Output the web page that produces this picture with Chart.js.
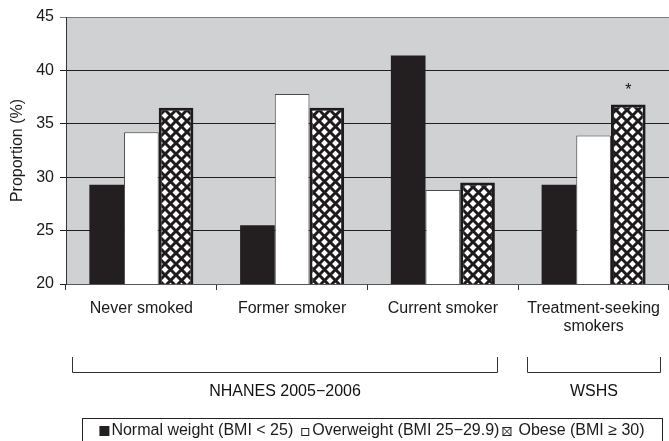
<!DOCTYPE html>
<html>
<head>
<meta charset="utf-8">
<script src="https://cdn.jsdelivr.net/npm/chart.js@4"></script>
<style>
  html, body { margin: 0; padding: 0; background: #fff; }
  #wrap { width: 669px; height: 441px; position: relative; }
</style>
</head>
<body>
<div id="wrap"><canvas id="myChart"></canvas></div>
<script>
// categories and values
var categories = ['Never smoked', 'Former smoker', 'Current smoker', ['Treatment-seeking', 'smokers']];
var seriesNames = ['Normal weight (BMI < 25)', 'Overweight (BMI 25\u221229.9)', 'Obese (BMI \u2265 30)'];
var normalWeight = [29.3, 25.5, 41.4, 29.3];
var overweight = [34.2, 37.8, 28.8, 33.9];
var obese = [36.5, 36.5, 29.5, 36.8];
var yMin = 20, yMax = 45, yStep = 5;
var significance = ['', '', '', '*'];
var groups = [
  { label: 'NHANES 2005\u22122006', from: 0, to: 2 },
  { label: 'WSHS', from: 3, to: 3 }
];

var FONT = '"Liberation Sans", Arial, Helvetica, sans-serif';
Chart.defaults.font.family = FONT;
Chart.defaults.font.size = 16;
Chart.defaults.color = '#1a1a1a';

// crosshatch fill: black lines, white diamonds
function hatchPattern() {
  var p = 11;
  var c = document.createElement('canvas');
  c.width = p; c.height = p;
  var g = c.getContext('2d');
  g.fillStyle = '#fff';
  g.fillRect(0, 0, p, p);
  g.strokeStyle = '#1e1b1c';
  g.lineWidth = 3;
  g.beginPath();
  g.moveTo(-1, -1); g.lineTo(p + 1, p + 1);
  g.moveTo(p + 1, -1); g.lineTo(-1, p + 1);
  g.stroke();
  return g.createPattern(c, 'repeat');
}

var ctx = document.getElementById('myChart').getContext('2d');
var hatch = hatchPattern();

var bgPlugin = {
  id: 'plotBg',
  beforeDraw: function (chart) {
    var a = chart.chartArea, c = chart.ctx;
    c.save();
    c.fillStyle = '#d0d1d3';
    c.fillRect(a.left, a.top, a.right - a.left, a.bottom - a.top);
    c.restore();
  }
};

var extrasPlugin = {
  id: 'extras',
  afterDraw: function (chart, args, opts) {
    var c = chart.ctx;
    var x = chart.scales.x;
    var catW = x.getPixelForValue(1) - x.getPixelForValue(0);
    c.save();

    // significance marks above obese bars
    var meta = chart.getDatasetMeta(2);
    c.font = '16px ' + FONT;
    c.fillStyle = '#111';
    c.textAlign = 'center';
    c.textBaseline = 'middle';
    significance.forEach(function (s, i) {
      if (!s) return;
      var bar = meta.data[i];
      c.fillText(s, bar.x, bar.y - 14);
    });

    // group brackets
    c.strokeStyle = '#333';
    c.lineWidth = 1;
    groups.forEach(function (gr, i) {
      var ins = opts.insets[i];
      var l = Math.round(x.getPixelForValue(gr.from) - catW * ins[0]) + 0.5;
      var r = Math.round(x.getPixelForValue(gr.to) + catW * ins[1]) + 0.5;
      c.beginPath();
      c.moveTo(l, opts.bracketTop);
      c.lineTo(l, opts.bracketBottom + 0.5);
      c.lineTo(r, opts.bracketBottom + 0.5);
      c.lineTo(r, opts.bracketTop);
      c.stroke();
      c.fillText(gr.label, (l + r) / 2, opts.groupLabelY);
    });

    // boxed legend
    var box = opts.legendBox;
    c.strokeStyle = '#222';
    c.strokeRect(box.left + 0.5, box.top + 0.5, box.right - box.left, 40);
    c.font = '16px ' + FONT;
    var markW = [12, 13, 17];
    var gaps = [6, 2, 0];
    var total = 0;
    seriesNames.forEach(function (n, i) { total += markW[i] + c.measureText(n).width + gaps[i]; });
    var cx = (box.left + box.right) / 2 - total / 2;
    var cy = box.textY;
    c.textAlign = 'left';
    seriesNames.forEach(function (n, i) {
      if (i === 0) {
        c.fillStyle = '#231f20';
        c.fillRect(cx, cy - 5, 10, 10);
      } else if (i === 1) {
        c.strokeStyle = '#222';
        c.strokeRect(cx + 2.5, cy - 2.5, 7, 7);
      } else {
        c.strokeStyle = '#222';
        c.strokeRect(cx + 1.5, cy - 3.5, 8, 8);
        c.beginPath();
        c.moveTo(cx + 1.5, cy - 3.5); c.lineTo(cx + 9.5, cy + 4.5);
        c.moveTo(cx + 9.5, cy - 3.5); c.lineTo(cx + 1.5, cy + 4.5);
        c.stroke();
      }
      cx += markW[i];
      c.fillStyle = '#1a1a1a';
      c.fillText(n, cx, cy);
      cx += c.measureText(n).width + gaps[i];
    });
    c.restore();
  }
};

var myChart = new Chart(ctx, {
  type: 'bar',
  data: {
    labels: categories,
    datasets: [{
      label: seriesNames[0],
      data: normalWeight,
      backgroundColor: '#231f20',
      borderWidth: 0
    }, {
      label: seriesNames[1],
      data: overweight,
      backgroundColor: '#ffffff',
      borderColor: '#4a4a4a',
      borderWidth: 1
    }, {
      label: seriesNames[2],
      data: obese,
      backgroundColor: hatch,
      borderColor: '#1e1b1c',
      borderWidth: 3
    }]
  },
  options: {
    responsive: true,
    maintainAspectRatio: false,
    animation: false,
    layout: { padding: { top: 17, right: 0, left: 0, bottom: 0 } },
    datasets: { bar: { categoryPercentage: 0.69, barPercentage: 1.0 } },
    plugins: {
      legend: { display: false },
      tooltip: { enabled: false },
      extras: {
        insets: [[0.46, 0.36], [0.44, 0.44]],
        bracketTop: 357,
        bracketBottom: 372,
        groupLabelY: 392,
        legendBox: { left: 82, right: 662, top: 418, textY: 431 }
      }
    },
    scales: {
      x: {
        offset: true,
        afterFit: function (s) { s.height = 157; },
        grid: { offset: true, drawOnChartArea: false, drawTicks: true, tickLength: 6, color: '#333' },
        border: { color: '#555', width: 1 },
        ticks: { padding: 9, maxRotation: 0, autoSkip: false, font: { size: 16, lineHeight: 1.15 }, color: '#1a1a1a' }
      },
      y: {
        min: yMin,
        max: yMax,
        afterFit: function (s) { s.width = 66; },
        ticks: { stepSize: yStep, padding: 6, font: { size: 16 }, color: '#1a1a1a' },
        grid: {
          color: function (c) { return c.tick && c.tick.value === yMax ? '#7a7a7a' : '#1e1e1e'; },
          lineWidth: 1,
          tickLength: 6
        },
        border: { color: '#333', width: 1 },
        title: { display: true, text: 'Proportion (%)', font: { size: 16 }, padding: { top: 8, bottom: 0 }, color: '#1a1a1a' }
      }
    }
  },
  plugins: [bgPlugin, extrasPlugin]
});
</script>
</body>
</html>
